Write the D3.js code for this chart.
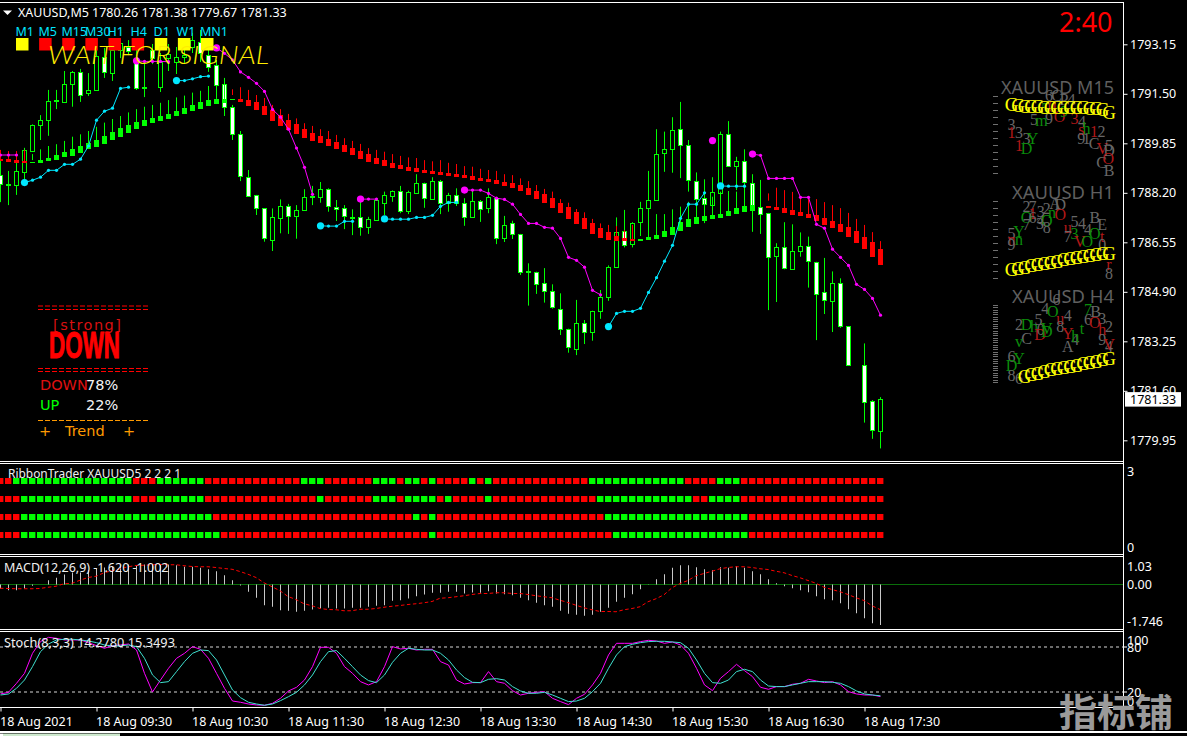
<!DOCTYPE html>
<html><head><meta charset="utf-8"><script src="https://cdnjs.cloudflare.com/ajax/libs/d3/7.8.5/d3.min.js"></script>
<style>html,body{margin:0;background:#000;overflow:hidden}svg{display:block}text{font-family:"Noto Sans",sans-serif;fill:#fff}</style></head><body>
<script>
const opens=[1788.78,1788.47,1788.47,1788.89,1789.56,1790.44,1790.61,1791.25,1791.23,1791.82,1792.22,1791.53,1791.62,1792.72,1792.19,1792.95,1793.05,1792.58,1791.68,1792.95,1791.71,1792.68,1792.54,1792.72,1793.04,1793.23,1792.78,1792.45,1791.81,1791.06,1790.14,1788.73,1788.11,1787.68,1786.62,1787.34,1787.75,1787.43,1787.62,1788.04,1788.06,1788.31,1787.71,1787.67,1787.38,1787.37,1787.04,1787.28,1787.86,1788.11,1788.26,1787.59,1788.19,1788.51,1787.99,1788.59,1787.86,1788.13,1787.86,1787.39,1787.91,1787.66,1788.01,1786.71,1787.18,1786.81,1785.55,1785.56,1785.17,1784.91,1784.33,1783.66,1782.99,1783.84,1783.54,1784.24,1784.71,1785.71,1786.93,1786.51,1787.21,1787.69,1787.94,1789.51,1789.64,1790.31,1789.77,1788.59,1788.01,1787.79,1788.19,1790.14,1789.06,1789.24,1788.53,1787.73,1787.51,1786.06,1786.37,1785.66,1786.26,1786.41,1785.89,1784.87,1784.59,1785.19,1783.75,null,1782.46,1781.24,1780.26];
const highs=[1789.25,1788.92,1789.22,1789.69,1790.47,1790.78,1791.62,1791.62,1792.25,1792.25,1792.32,1792.18,1793.05,1793.02,1793.18,1793.35,1793.28,1793.12,1792.58,1793.15,1792.85,1793.15,1793.05,1793.02,1793.52,1793.62,1793.18,1792.62,1792.02,1791.12,1790.25,1788.95,1788.12,1787.68,1787.67,1787.97,1787.82,1787.78,1788.31,1788.42,1788.55,1788.34,1787.95,1787.78,1787.64,1787.98,1787.39,1788.02,1788.23,1788.27,1788.42,1788.26,1788.81,1788.53,1788.71,1788.62,1788.19,1788.34,1788.01,1788.28,1787.95,1788.34,1788.05,1787.42,1787.26,1786.82,1785.84,1785.56,1785.68,1785.14,1784.84,1783.66,1784.62,1783.95,1784.26,1784.95,1785.77,1787.37,1787.62,1787.21,1787.89,1788.92,1790.31,1790.23,1790.71,1791.22,1789.95,1788.87,1788.64,1788.71,1790.23,1790.58,1789.39,1789.64,1788.81,1788.62,1787.52,1786.51,1787.21,1787.14,1786.87,1786.73,1785.89,1786.02,1785.57,1785.34,1783.75,null,1783.17,1781.28,1781.38];
const lows=[1787.88,1787.78,1788.12,1788.56,1789.55,1789.95,1790.09,1790.98,1791.22,1791.06,1791.22,1791.42,1791.60,1792.02,1791.92,1792.68,1792.78,1791.62,1791.38,1792.48,1791.55,1792.25,1792.15,1792.52,1792.85,1792.55,1792.22,1791.55,1790.75,1789.95,1788.58,1788.08,1787.45,1786.56,1786.25,1786.84,1786.82,1786.66,1787.59,1787.78,1787.86,1787.56,1787.25,1786.98,1786.78,1786.76,1786.82,1787.26,1787.45,1787.89,1787.51,1787.48,1788.17,1787.69,1787.98,1787.48,1787.56,1787.75,1787.09,1787.38,1787.22,1787.51,1786.48,1786.55,1786.65,1785.45,1784.43,1784.82,1784.53,1784.33,1783.45,1782.86,1782.78,1783.15,1783.26,1783.99,1784.59,1785.70,1786.37,1786.37,1786.75,1786.73,1787.93,1788.89,1788.86,1788.68,1788.23,1787.78,1787.18,1787.78,1788.18,1789.07,1788.28,1788.28,1786.89,1786.82,1784.28,1784.55,1785.64,1785.64,1786.06,1785.03,1783.28,1784.15,1783.55,1783.69,1782.43,null,1780.53,1779.99,1779.67];
const closes=[1788.47,1788.48,1788.92,1789.62,1790.44,1790.61,1791.25,1791.27,1791.82,1792.22,1791.45,1791.62,1792.75,1792.22,1792.95,1793.18,1792.92,1791.68,1791.71,1792.68,1792.55,1792.82,1792.71,1792.78,1793.28,1792.85,1792.39,1791.78,1791.04,1790.17,1788.73,1788.11,1787.68,1786.68,1787.37,1787.75,1787.43,1787.62,1788.04,1788.08,1788.31,1787.73,1787.64,1787.39,1787.40,1787.04,1787.31,1787.95,1788.11,1788.26,1787.59,1788.21,1788.53,1788.01,1788.59,1787.86,1788.11,1787.86,1787.39,1787.91,1787.66,1788.04,1786.69,1787.13,1786.81,1785.53,1785.57,1785.17,1784.91,1784.37,1783.66,1783.06,1783.84,1783.54,1784.24,1784.71,1785.71,1786.89,1786.47,1787.20,1787.69,1787.94,1789.47,1789.64,1790.27,1789.77,1788.59,1787.99,1787.81,1788.21,1790.14,1789.07,1789.24,1788.53,1787.62,1787.51,1786.06,1786.37,1785.66,1786.26,1786.41,1785.91,1784.81,1784.59,1785.19,1783.77,1782.45,null,1781.23,1780.26,1781.33];

const ribbonHigh=[1789.62,1789.58,1789.58,1789.62,1789.48,1789.64,1789.75,1789.81,1789.92,1790.06,1790.14,1790.25,1790.39,1790.53,1790.65,1790.75,1790.87,1790.98,1791.06,1791.12,1791.19,1791.28,1791.37,1791.43,1791.53,1791.59,1791.75,1791.77,1792.01,1791.64,1791.71,1791.62,1791.45,1791.35,1791.12,1790.98,1790.82,1790.67,1790.51,1790.42,1790.31,1790.25,1790.12,1790.01,1789.92,1789.82,1789.68,1789.62,1789.56,1789.48,1789.42,1789.37,1789.35,1789.28,1789.24,1789.28,1789.19,1789.15,1789.08,1789.06,1788.99,1788.95,1788.92,1788.81,1788.78,1788.67,1788.58,1788.45,1788.32,1788.23,1787.98,1787.86,1787.65,1787.54,1787.32,1787.17,1787.12,1787.08,1786.95,1787.12,1786.65,1786.95,1787.48,1787.48,1787.64,1787.73,1787.89,1787.78,1787.95,1788.06,1788.23,1788.25,1788.23,1788.39,1788.45,null,1788.17,1788.36,1788.28,1788.22,1788.08,1788.04,1787.98,1787.88,1787.78,1787.68,1787.52,1787.32,1787.12,1786.88,1786.58];
const ribbonTop=[1789.32,1789.32,1789.28,1789.25,1789.23,1789.28,1789.34,1789.45,1789.54,1789.65,1789.75,1789.84,1789.95,1790.08,1790.22,1790.35,1790.45,1790.55,1790.62,1790.68,1790.75,1790.82,1790.91,1791.02,1791.11,1791.22,1791.28,1791.32,1791.32,1791.32,1791.32,1791.28,1791.21,1791.08,1790.95,1790.78,1790.62,1790.48,1790.31,1790.18,1790.08,1789.98,1789.89,1789.78,1789.68,1789.58,1789.48,1789.35,1789.28,1789.18,1789.12,1789.05,1789.02,1788.95,1788.91,1788.88,1788.85,1788.82,1788.78,1788.75,1788.68,1788.65,1788.62,1788.55,1788.52,1788.45,1788.35,1788.25,1788.15,1788.02,1787.85,1787.72,1787.55,1787.35,1787.18,1787.02,1786.88,1786.75,1786.68,1786.65,1786.65,1786.72,1786.78,1786.92,1787.05,1787.22,1787.32,1787.38,1787.42,1787.45,1787.48,1787.58,1787.68,1787.75,1787.78,null,1787.75,1787.72,1787.68,1787.62,1787.55,1787.48,1787.45,1787.35,1787.25,1787.15,1787.05,1786.92,1786.72,1786.55,1786.32];
const ribbonBottom=[1789.25,1789.23,1789.19,1789.19,1789.19,1789.19,1789.23,1789.28,1789.36,1789.43,1789.52,1789.65,1789.72,1789.82,1789.95,1790.05,1790.18,1790.32,1790.42,1790.53,1790.59,1790.66,1790.73,1790.82,1790.91,1790.99,1791.09,1791.16,1791.18,1791.28,1791.23,1791.09,1790.95,1790.78,1790.59,1790.43,1790.28,1790.15,1790.02,1789.92,1789.84,1789.75,1789.65,1789.55,1789.45,1789.32,1789.22,1789.15,1789.08,1789.02,1788.98,1788.92,1788.88,1788.85,1788.82,1788.78,1788.75,1788.72,1788.68,1788.62,1788.58,1788.55,1788.48,1788.42,1788.35,1788.25,1788.12,1787.98,1787.85,1787.68,1787.52,1787.32,1787.15,1786.98,1786.82,1786.68,1786.62,1786.58,1786.58,1786.58,1786.58,1786.62,1786.65,1786.72,1786.78,1786.92,1787.05,1787.15,1787.25,1787.32,1787.35,1787.42,1787.48,1787.55,1787.62,null,1787.69,1787.62,1787.52,1787.45,1787.42,1787.35,1787.25,1787.12,1787.02,1786.88,1786.72,1786.52,1786.32,1786.06,1785.78];
const ribbonGreenRanges=[[4,28],[80,94]];
const ribbonGreenDash=[29];
const ribbonWickEnds=new Map([[4,1789.28],[29,1791.45],[96,1787.93]]);

const trailValues=[1789.45,1789.45,1789.45,1788.53,1788.61,1788.71,1788.94,1788.94,1789.14,1789.14,1789.31,1789.75,1790.61,1790.91,1791.01,1791.67,1791.71,1792.59,1792.57,1792.57,1792.57,1792.56,1791.93,1791.93,1791.99,1792.06,1792.08,1793.02,1792.84,1792.62,1792.22,1792.04,1791.84,1791.57,1790.97,1790.71,1790.31,1789.68,1789.04,1788.14,1787.09,1787.08,1787.08,1787.24,1787.24,1787.98,1787.98,1787.98,1787.32,1787.31,1787.31,1787.31,1787.37,1787.37,1787.44,1787.74,1787.87,1787.87,1788.28,1788.28,1788.28,1788.17,1788.01,1787.97,1787.81,1787.47,1787.17,1787.17,1787.04,1787.01,1786.67,1786.04,1785.94,1785.71,1784.94,1784.79,1783.73,1784.17,1784.24,1784.24,1784.34,1784.87,1785.36,1785.91,1786.44,1787.34,1787.81,1787.81,1788.19,1789.93,1788.42,1788.41,1788.41,1788.41,1789.48,1789.44,1788.67,1788.67,1788.67,1788.67,1788.04,1788.04,1787.14,1787.01,1786.31,1786.04,1785.77,1785.14,1784.97,1784.67,1784.11];
const trailBreaks=[0,3,17,22,27,40,45,48,58,76,89,90,94,111];

const priceTicks=[1793.15,1791.50,1789.85,1788.20,1786.55,1784.90,1783.25,1781.60,1779.95];
const lastPrice=1781.33;

const rowGreen=[
 [[2,16],[20,25],[38,40],[47,49],[51,52],[54,54],[59,59],[61,61],[74,85],[90,92]],
 [[3,16],[20,25],[40,40],[47,49],[51,54],[56,56],[61,61],[75,86],[89,92]],
 [[3,26],[52,52],[54,54],[76,93]],
 [[3,27],[54,54],[77,93]]];

const macdHist=[-0.16,-0.23,-0.23,-0.16,-0.05,0,0.17,0.27,0.40,0.48,0.48,0.57,0.64,0.68,0.71,0.77,0.80,0.77,0.80,0.80,0.79,0.80,0.77,0.71,0.71,0.67,0.61,0.53,0.37,0.17,-0.04,-0.29,-0.53,-0.83,-0.89,-1.03,-1.05,-1.09,-1.05,-1.00,-0.96,-0.93,-0.96,-0.96,-0.93,-0.93,-0.89,-0.85,-0.83,-0.65,-0.63,-0.56,-0.47,-0.40,-0.33,-0.33,-0.29,-0.29,-0.36,-0.32,-0.33,-0.27,-0.36,-0.39,-0.43,-0.53,-0.63,-0.73,-0.83,-0.89,-1.05,-1.17,-1.21,-1.25,-1.21,-1.09,-0.93,-0.69,-0.53,-0.39,-0.19,-0.01,0.21,0.41,0.67,0.77,0.77,0.69,0.61,0.57,0.69,0.67,0.73,0.67,0.53,0.41,0.21,0.05,-0.07,-0.15,-0.23,-0.31,-0.47,-0.59,-0.63,-0.75,-0.99,-1.15,-1.35,-1.55,-1.62];
const macdSignal=[-0.15,-0.16,-0.17,-0.17,-0.17,-0.16,-0.11,-0.07,0.03,0.05,0.17,0.28,0.33,0.47,0.55,0.63,0.71,0.76,0.77,0.79,0.80,0.79,0.79,0.75,0.72,0.71,0.71,0.68,0.64,0.61,0.52,0.41,0.28,0.07,-0.09,-0.25,-0.48,-0.60,-0.77,-0.85,-0.96,-1.00,-1.01,-1.05,-1.05,-0.99,-0.99,-0.96,-0.91,-0.87,-0.84,-0.80,-0.77,-0.73,-0.68,-0.55,-0.53,-0.49,-0.45,-0.40,-0.36,-0.36,-0.33,-0.33,-0.36,-0.36,-0.40,-0.45,-0.49,-0.53,-0.63,-0.72,-0.83,-0.93,-1.01,-1.08,-1.08,-1.09,-1.01,-0.96,-0.89,-0.69,-0.57,-0.41,-0.13,0.04,0.16,0.35,0.44,0.53,0.63,0.68,0.71,0.71,0.68,0.63,0.60,0.53,0.47,0.36,0.27,0.16,0.05,-0.11,-0.20,-0.29,-0.40,-0.53,-0.64,-0.85,-1.00];
const macdLabels=["1.03","0.00","-1.746"];

const stochMain=[17.8,20,32,45.3,72,87.6,93.3,92,89.8,89.8,89.8,86.2,82.2,78.7,82.2,83.1,84.4,76.4,45.3,20.4,36.4,52,65.3,72,80.9,77.3,65.3,45.3,25.3,8.4,6.7,4.4,3.1,2.7,5.3,12,21.8,26.7,36.4,54.2,80,80,72,54.2,45.3,34.2,29.8,34.2,54.2,80.9,77.8,78.7,76.4,77.3,77.3,60.9,56.4,36.4,31.1,32.9,32.9,47.6,34.2,32,22.2,16.4,18.7,20,20.9,12,7.6,3.6,12,17.3,29.8,45.3,69.8,85.3,85.3,85.3,87.6,89.3,88.4,85.3,87.1,83.1,72,52,29.8,22.2,38.7,47.6,57.3,48.9,40.9,26.7,24,27.6,27.6,30.7,32,37.3,35.1,32.9,34.2,29.8,20.9,17.8,16.4,16.4,14.28];
const stochSignal=[16.4,17.8,25.3,36.4,54.2,74.2,84.4,89.8,90.7,90.7,89.8,88.4,86.2,83.1,81.8,81.8,83.1,80.9,65.3,43.1,32.9,34.2,47.6,60.9,72,76.4,75.6,63.1,43.1,23.1,12.9,6.7,4.4,2.7,4.4,8.9,14.2,20,29.8,43.1,60.9,74.2,75.6,65.3,54.2,43.1,35.6,32.9,43.1,60,72,78.7,77.3,76.4,76.4,72,63.1,49.8,39.6,33.3,32.9,37.3,38.2,36.4,27.6,21.8,18.7,18.7,20,16.4,12,7.6,8.4,12,20.9,32,52,69.8,80.9,84,86.2,87.6,88,88,87.1,86.2,78.7,63.1,45.3,32.9,32,36.4,47.6,50.7,47.6,36.4,28.4,27.6,27.6,29.8,32,34.2,34.2,34.2,33.3,32,27.6,21.8,17.8,16.4,15.35];
const stochLevels=[80,20];
const stochLabels=[100,80,20,0];

const timeBars=[0,12,24,36,48,60,72,84,96,108];
const timeLabels=["18 Aug 2021","18 Aug 09:30","18 Aug 10:30","18 Aug 11:30","18 Aug 12:30","18 Aug 13:30","18 Aug 14:30","18 Aug 15:30","18 Aug 16:30","18 Aug 17:30"];

const tfNames=["M1","M5","M15","M30","H1","H4","D1","W1","MN1"];
const tfState=["wait","down","down","down","down","down","wait","wait","wait"];

const miniTitles=["XAUUSD M15","XAUUSD H1","XAUUSD H4"];
const miniTickCounts=[12,12,34];
const curveM15=[11.6,12.5,13.4,13.8,14.2,14.7,14.7,15.1,15.1,15.1,15.1,15.5,15.9,16.8,18.1,21.6];
const curveH1=[89.2,87.1,85.8,84.1,82.8,81,79.7,78,76.3,75,73.7,72.4,71.1,69.8,68.5,67.7];
const curveH4=[null,null,92.7,90.9,88.4,86.2,84.1,82.3,80.6,79.3,78,76.3,74.6,72.8,71.1,69.4];
const glyphsM15=[["6",5,0,"k"],["C",6,0,"k"],["P",7,5,"k"],["4",8,5,"k"],["5",3,31,"k"],["9",5,29,"k"],["m",4,32,"g"],["O",6.4,27,"r"],["3",8.4,29,"r"],["4",9.4,33,"k"],["h",10,42,"g"],["s",9.3,43,"r"],["1",11,46,"r"],["2",12,46,"k"],["9",9.3,55,"k"],["1",10,55,"k"],["3",0,37.5,"k"],["1",0,48,"r"],["3",1,48,"k"],["3",2,55,"k"],["Y",2.8,55,"g"],["1",1,65,"r"],["D",2,68,"g"],["C",11,62,"k"],["V",12.1,68,"r"],["5",13,65,"k"],["D",13,71,"k"],["O",12.9,81,"r"],["C",12,87,"k"],["B",13,97,"k"],["5",4.5,16,"g"],["0",5.4,14,"r"],["9",7,20,"g"]];
const glyphsH1=[["2",2,7,"k"],["7",2.8,7,"k"],["1",2.8,16,"r"],["3",3.9,14,"k"],["2",4.7,9.5,"k"],["A",5.8,3,"k"],["D",6.5,5,"k"],["n",5.4,15,"g"],["O",6.5,18,"r"],["O",2,21,"g"],["6",2.8,22,"k"],["4",3.9,25,"k"],["O",4.7,25,"g"],["8",4.7,35,"k"],["3",3.8,29,"k"],["7",2,31,"k"],["u",7.5,35,"r"],["7",7.5,46,"k"],["3",8.4,42,"g"],["5",8.4,27,"k"],["4",9.4,29,"k"],["4",10.2,37.5,"k"],["B",11.1,22,"k"],["E",12.1,31,"k"],["O",11.1,42,"g"],["t",12.1,46,"r"],["V",9.1,53,"r"],["O",10.1,53,"g"],["0",12.1,57,"k"],["r",13,83,"r"],["8",13,94,"k"],["5",0,42,"k"],["Y",1,40,"g"],["n",0,50,"r"],["n",1,50,"g"],["9",0,57,"k"]];
const glyphsH4=[["4",4.5,4,"k"],["6",6,-6.5,"k"],["O",5.5,9,"g"],["u",6.5,17,"r"],["4",7.5,14,"k"],["8",6.5,28,"k"],["2",1,26,"k"],["D",2,26,"g"],["h",3,28,"g"],["5",3.6,19,"k"],["0",3.9,32,"k"],["V",4.7,30,"g"],["D",3.8,39,"r"],["D",4.7,34.5,"g"],["C",2,43,"k"],["v",1,47,"g"],["Y",7.5,37,"r"],["A",7.5,54,"k"],["4",8.5,45,"k"],["h",8.5,41,"g"],["t",9.4,30,"g"],["7",10.2,6.5,"g"],["B",11.2,8.6,"k"],["6",10.2,19,"k"],["O",11.1,23,"r"],["3",12.1,17,"k"],["h",12.1,32,"r"],["2",13,28,"k"],["9",12.1,45,"k"],["4",13,54,"k"],["V",13,52,"r"],["6",0,67,"k"],["Y",1,70,"g"],["D",0,78,"g"],["8",0,91,"k"],["6",1,95,"k"]];

const W=1187,H=736,GREEN="#00ff00",RED="#ff0000";
const svg=d3.select("body").append("svg").attr("width",W).attr("height",H);
svg.append("rect").attr("width",W).attr("height",H).attr("fill","#000");
const bars=d3.range(opens.length);
const x=d3.scaleLinear().domain([0,110]).range([0,880]);
const y=d3.scaleLinear().domain([1794.517,1779.284]).range([3,460]);
const px=v=>Math.round(v)+0.5;
const inRanges=(i,r)=>r.some(([a,b])=>i>=a&&i<=b);

// candles
const cg=svg.append("g");
const live=bars.filter(i=>opens[i]!=null);
cg.selectAll("line").data(live).join("line").attr("x1",i=>x(i)+.5).attr("x2",i=>x(i)+.5)
 .attr("y1",i=>y(highs[i])).attr("y2",i=>y(lows[i])).attr("stroke",GREEN);
cg.selectAll("rect").data(live).join("rect").attr("x",i=>x(i)-1.5).attr("width",4)
 .attr("y",i=>px(y(Math.max(opens[i],closes[i]))))
 .attr("height",i=>Math.max(1,Math.round(y(Math.min(opens[i],closes[i]))-y(Math.max(opens[i],closes[i])))))
 .attr("fill",i=>closes[i]<opens[i]?"#fff":"#000").attr("stroke",GREEN);

// ribbon
const rg=svg.append("g");
const rb=bars.filter(i=>ribbonTop[i]!=null);
const rCol=i=>inRanges(i,ribbonGreenRanges)?GREEN:RED;
rg.selectAll("line").data(rb).join("line").attr("x1",i=>x(i)+.5).attr("x2",i=>x(i)+.5)
 .attr("y1",i=>y(ribbonHigh[i])).attr("y2",i=>y(ribbonWickEnds.has(i)?ribbonWickEnds.get(i):ribbonTop[i]))
 .attr("stroke",rCol);
rg.selectAll("rect").data(rb).join("rect").attr("x",i=>x(i)-2).attr("width",5)
 .attr("y",i=>Math.round(y(ribbonTop[i]))).attr("height",i=>Math.max(1,Math.round(y(ribbonBottom[i])-y(ribbonTop[i]))))
 .attr("fill",i=>ribbonGreenDash.includes(i)?GREEN:rCol(i));

// trailing stop
const tg=svg.append("g");
const line=d3.line().x(i=>x(i)+.5).y(i=>y(trailValues[i]));
d3.pairs(trailBreaks).forEach(([a,b],k)=>{
 const c=k%2?"#00e8ff":"#ff00ff", seg=d3.range(a,b);
 tg.append("path").attr("d",line(seg)).attr("fill","none").attr("stroke",c);
 tg.selectAll(null).data(seg).join("circle").attr("cx",i=>x(i)+.5).attr("cy",i=>y(trailValues[i]))
  .attr("r",i=>(i===a&&k>0)?3.6:1.6).attr("fill",c);
});

// price axis
const axisStyle=(g,size)=>{g.select(".domain").remove();g.selectAll("line").attr("stroke","#fff");
 g.selectAll("text").attr("fill","#fff").style("font-size",size+"px");};
svg.append("g").attr("transform","translate(1123.5,0.3)")
 .call(d3.axisRight(y).tickValues(priceTicks).tickSize(4).tickPadding(2.5).tickFormat(d3.format(".2f")))
 .call(axisStyle,12.5);
svg.append("rect").attr("x",1125).attr("y",y(lastPrice)-6.5).attr("width",56).attr("height",14.5).attr("fill","#fff");
svg.append("text").attr("x",1130).attr("y",y(lastPrice)+0.5).attr("dy",".36em").style("fill","#000").style("font-size","12.5px").text(d3.format(".2f")(lastPrice));

// ribbon rows panel
const rowY=d3.scaleLinear().domain([0,3]).range([481,535]);
const ribbonAxis=d3.scaleLinear().domain([0,3]).range([547,471]);
rowGreen.forEach((r,k)=>{
 svg.append("g").selectAll("rect").data(bars).join("rect").attr("x",i=>x(i)-3).attr("width",6.4)
  .attr("y",rowY(k)-3).attr("height",6).attr("fill",i=>inRanges(i,r)?GREEN:RED);
});
svg.append("g").selectAll("text").data([3,0]).join("text").attr("x",1127).attr("y",d=>ribbonAxis(d)).attr("dy",".36em").style("font-size","12.5px").text(d=>d);

// macd panel
const mY=d3.scaleLinear().domain([0,-1.6]).range([584.5,624.5]);
svg.append("line").attr("x1",0).attr("x2",1123).attr("y1",584.5).attr("y2",584.5).attr("stroke","#0a6e0a");
svg.append("g").selectAll("line").data(bars).join("line").attr("x1",i=>x(i)+.5).attr("x2",i=>x(i)+.5)
 .attr("y1",mY(0)).attr("y2",i=>mY(macdHist[i])).attr("stroke","#c8c8c8");
svg.append("path").attr("d",d3.line().x(i=>x(i)).y(i=>mY(macdSignal[i]))(bars)).attr("fill","none")
 .attr("stroke",RED).attr("stroke-dasharray","3.5,2.5");
svg.append("g").selectAll("text").data(macdLabels).join("text").attr("x",1127)
 .attr("y",d=>Math.min(621,Math.max(566,mY(+d)))).attr("dy",".36em").style("font-size","12.5px").text(d=>d);

// stoch panel
const sY=d3.scaleLinear().domain([0,100]).range([707.3,632.3]);
svg.append("g").selectAll("line").data(stochLevels).join("line").attr("x1",0).attr("x2",1123).attr("y1",d=>px(sY(d))-.5).attr("y2",d=>px(sY(d))-.5)
 .attr("stroke","#d8d8d8").attr("stroke-dasharray","3,3");
const sl=a=>d3.line().x(i=>x(i)+.5).y(i=>sY(a[i]))(bars);
svg.append("path").attr("d",sl(stochMain)).attr("fill","none").attr("stroke","#ff00ff");
svg.append("path").attr("d",sl(stochSignal)).attr("fill","none").attr("stroke","#3fe0d0");
svg.append("g").selectAll("text").data(stochLabels).join("text").attr("x",1127)
 .attr("y",d=>Math.min(701,Math.max(640,sY(d)))).attr("dy",".36em").style("font-size","12.5px").text(d=>d);
svg.append("g").selectAll("line").data(stochLevels).join("line").attr("x1",1123).attr("x2",1127).attr("y1",d=>px(sY(d))-.5).attr("y2",d=>px(sY(d))-.5).attr("stroke","#fff");

// time axis
const tAxis=svg.append("g").attr("transform","translate(0.5,707.5)")
 .call(d3.axisBottom(x).tickValues(timeBars).tickSize(4).tickPadding(3).tickFormat((d,i)=>timeLabels[i]))
 .call(axisStyle,12.5);
tAxis.selectAll("text").attr("text-anchor","start").attr("dy",".95em").attr("x",-1);

// panel borders
const borders=[[0,1123.5,2.5,2.5],[0,1123.5,461.5,461.5],[0,1123.5,463.5,463.5],[0,1123.5,554.5,554.5],[0,1123.5,556.5,556.5],[0,1123.5,629.5,629.5],[0,1123.5,631.5,631.5],[0,1123.5,707.5,707.5],[1123.5,1123.5,2,708],[0,1187,731.5,731.5],[0,1187,732.5,732.5]];
svg.append("g").selectAll("line").data(borders).join("line").attr("x1",d=>d[0]).attr("x2",d=>d[1]).attr("y1",d=>d[2]).attr("y2",d=>d[3]).attr("stroke","#fff");
svg.append("rect").attr("x",0).attr("y",733.5).attr("width",3).attr("height",3).attr("fill","#fff");
svg.append("rect").attr("x",3).attr("y",733.5).attr("width",117).attr("height",3).attr("fill","#cde8cd");

// header
svg.append("path").attr("d","M3 10.5L12 10.5L7.5 15Z").attr("fill","#fff");
svg.append("text").attr("x",18).attr("y",17).style("font-size","12.5px").text("XAUUSD,M5");
svg.append("text").attr("x",92).attr("y",17).style("font-size","12.5px").text("1780.26 1781.38 1779.67 1781.33");
svg.append("text").attr("x",1059).attr("y",32).style("font-size","27px").style("fill",RED).text("2:40");

// timeframe strip
const tf=d3.scaleLinear().domain([0,8]).range([16,201]);
svg.append("g").selectAll("rect").data(tfState).join("rect").attr("x",(d,i)=>tf(i)).attr("y",38).attr("width",12.5).attr("height",12.5).attr("fill",d=>d==="wait"?"#ffff00":RED);
const tfTextX=[15.5,38.5,61.5,85,107.5,130.5,153.5,176.5,200];
svg.append("g").selectAll("text").data(tfNames).join("text").attr("x",(d,i)=>tfTextX[i]).attr("y",36).style("font-size","12.5px").style("fill","#00e5ff").text(d=>d);
svg.append("text").attr("x",48).attr("y",64).attr("textLength",221).attr("lengthAdjust","spacingAndGlyphs").style("font-family","Lato").style("font-style","italic").style("font-weight","300").style("font-size","25px").style("fill","#ffec00").text("WAIT FOR SIGNAL");

// mini panels
const miniTop=[96,201,305], miniHeight=77;
const miniX=d3.scaleLinear().domain([0,13]).range([1011.5,1109]);
const gX=d3.scaleLinear().domain([0,15]).range([1011.5,1109]);
const tone={k:"#676767",g:"#0b8c0b",r:"#b01818"};
[[glyphsM15,curveM15],[glyphsH1,curveH1],[glyphsH4,curveH4]].forEach(([gl,cv],p)=>{
 const my=d3.scaleLinear().domain([0,100]).range([miniTop[p],miniTop[p]+miniHeight]);
 const g=svg.append("g");
 g.append("text").attr("x",p?1012:1001).attr("y",miniTop[p]-2).attr("textLength",p?102:113).attr("lengthAdjust","spacingAndGlyphs").style("font-size","17.5px").style("fill","#5f5f5f").text(miniTitles[p]);
 const n=miniTickCounts[p];
 g.selectAll("line").data(d3.range(n)).join("line").attr("x1",993).attr("x2",998)
  .attr("y1",d=>px(my(d/(n-1)*100))).attr("y2",d=>px(my(d/(n-1)*100))).attr("stroke","#707070");
 g.selectAll("text.g").data(gl).join("text").attr("class","g").attr("text-anchor","middle").attr("dy",".34em")
  .attr("x",d=>miniX(d[1])).attr("y",d=>my(d[2])).style("font-family","Liberation Serif").style("font-size","16px").style("fill",d=>tone[d[3]]).text(d=>d[0]);
 g.selectAll("text.c").data(cv.map((v,i)=>[v,i]).filter(d=>d[0]!=null)).join("text").attr("class","c").attr("text-anchor","middle").attr("dy",".34em")
  .attr("x",d=>gX(d[1])).attr("y",d=>my(d[0])).style("font-family","Liberation Serif").style("font-size","19px").style("fill","#ffff00").text("G");
});

// signal box
const dashRows=[[306,RED],[309.5,RED],[368.5,RED],[371.5,RED],[420.5,"#ff9a00"]];
svg.append("g").selectAll("line").data(dashRows).join("line").attr("x1",38).attr("x2",148).attr("y1",d=>d[0]).attr("y2",d=>d[0]).attr("stroke",d=>d[1]).attr("stroke-dasharray","5,2");
const t=(s,xp,yp,size,col,fam)=>{const n=svg.append("text").attr("x",xp).attr("y",yp).attr("dy",".36em").style("font-size",size+"px").style("fill",col).text(s);if(fam)n.style("font-family",fam);return n;};
const BOX="DejaVu Sans";
t("[strong]",53,325,14.5,"#d81010",BOX).attr("textLength",68);
svg.append("text").attr("x",49).attr("y",358).attr("textLength",71).attr("lengthAdjust","spacingAndGlyphs")
 .style("font-family","Liberation Sans Narrow,Liberation Sans").style("font-weight","bold").style("font-size","36px").style("fill",RED).style("stroke",RED).style("stroke-width","1").text("DOWN");
t("DOWN",40,385,14.5,"#e01010",BOX); t("78%",86,385,14.5,"#f4f4f4",BOX);
t("UP",40,405,14.5,GREEN,BOX); t("22%",86,405,14.5,"#f4f4f4",BOX);
t("+",39,431,14.5,"#ff9a00",BOX); t("Trend",65,431,14.5,"#ff9a00",BOX); t("+",123,431,14.5,"#ff9a00",BOX);

// subwindow titles
t("RibbonTrader XAUUSD5 2 2 2 1",8,473,12.5,"#f0f0f0").attr("textLength",173).attr("lengthAdjust","spacingAndGlyphs");
t("MACD(12,26,9) -1.620 -1.002",4,567,12.5,"#f0f0f0");
t("Stoch(8,3,3) 14.2780 15.3493",4,642.5,12.5,"#f0f0f0").attr("textLength",171).attr("lengthAdjust","spacingAndGlyphs");

// watermark
svg.append("text").attr("x",1059).attr("y",726).style("font-family","Noto Sans CJK SC").style("font-weight","700").style("font-size","38px").style("fill","#9a9a9a").text("指标铺");
</script></body></html>
